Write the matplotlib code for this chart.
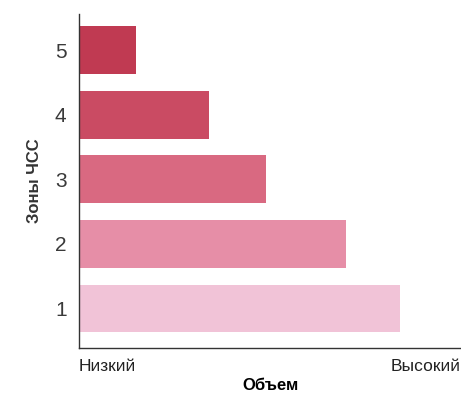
import matplotlib
matplotlib.use('Agg')
import matplotlib.pyplot as plt

# heart rate zones vs volume
zones = [1, 2, 3, 4, 5]
volume = [84, 70, 49, 34, 15]
colors = ['#f1c3d7', '#e68ea7', '#d96981', '#ca4b63', '#c03a52']
x_labels = ['Низкий', 'Высокий']

plt.rcParams['font.family'] = ['Liberation Sans', 'DejaVu Sans']

fig = plt.figure(figsize=(4.61, 4.01), dpi=100)
ax = fig.add_axes([0.1714, 0.1322, 0.8286, 0.8328])

ax.barh(zones, volume, height=0.74, color=colors)

ax.set_xlim(0, 100)
ax.set_ylim(0.39, 5.56)
ax.set_yticks(zones)
ax.set_yticklabels([str(z) for z in zones], fontsize=15, color='#3a3a3a')
ax.tick_params(axis='y', length=0, pad=9)

ax.set_xticks([0, 100])
ax.set_xticklabels(x_labels, fontsize=12.5, color='#222222')
ax.tick_params(axis='x', length=0, pad=8)
xt = ax.get_xticklabels()
xt[0].set_ha('left')
xt[1].set_ha('right')

ax.set_xlabel('Объем', fontsize=12, fontweight='bold', labelpad=3)
ax.set_ylabel('Зоны ЧСС', fontsize=12, fontweight='bold', labelpad=9, color='#333333')

for s in ['top', 'right']:
    ax.spines[s].set_visible(False)
for s in ['left', 'bottom']:
    ax.spines[s].set_color('#333333')
    ax.spines[s].set_linewidth(1)

fig.savefig('out.png', dpi=100)
